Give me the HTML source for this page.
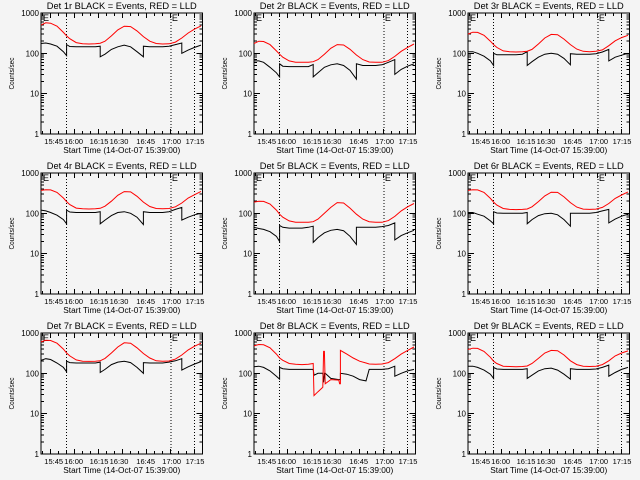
<!DOCTYPE html>
<html><head><meta charset="utf-8"><style>
html,body{margin:0;padding:0;background:#f4f4f4;}
svg{display:block;font-family:"Liberation Sans",sans-serif;}
</style></head><body>
<svg id="c" width="640" height="480" viewBox="0 0 640 480"></svg>
<script>
const T = [0,3,6,10,14,16,16,18,22,26,30,34,37,37,40,44,48,52,56,60,64,64,68,72,76,80,84,88,88,92,96,100];
const T8 = [0,3,6,10,14,16,16,18,22,26,30,34,37,37.5,40,43,43.5,44,44.5,48,53,53.5,54,54,58,62,66,70,72,76,80,84,88,88,92,96,100];
const red1 = [500,570,560,470,330,270,270,230,185,172,170,172,178,178,200,270,380,470,460,360,260,260,200,175,170,172,190,240,240,320,400,480];
const red2 = [175,200,196,165,115,95,95,80,65,60,60,60,62,62,70,95,133,165,161,126,91,91,70,61,60,60,66,84,84,112,140,170];
const red3 = [300,335,330,280,200,165,165,140,115,110,108,110,113,113,125,170,240,295,290,225,165,165,127,112,110,112,122,155,155,205,245,280];
const red4 = [370,385,380,330,240,195,195,165,135,130,128,130,133,133,150,200,280,345,340,265,190,190,148,132,130,132,145,180,180,240,290,350];
const red5 = [190,200,198,170,120,95,95,80,65,60,60,60,62,62,72,100,140,185,180,135,95,95,72,62,60,60,66,84,84,115,145,175];
const red6 = [370,385,380,330,235,190,190,160,132,125,124,125,128,128,145,195,270,335,330,255,185,185,143,127,125,127,140,175,175,235,285,340];
const red7 = [600,660,650,560,400,320,320,270,215,200,198,200,205,205,235,320,450,570,560,430,310,310,240,205,200,202,225,285,285,380,470,560];
const red8 = [480,520,510,430,300,240,240,210,175,168,165,168,175,28,35,45,350,350,55,70,68,55,55,370,300,240,200,180,170,168,170,185,230,230,300,370,450];
const red9 = [390,420,415,350,250,200,200,175,150,148,145,148,152,152,175,235,320,370,365,285,205,205,165,150,148,150,165,205,205,270,320,360];
const blk1 = [175,180,170,150,110,88,165,148,145,145,145,145,150,82,95,125,145,160,145,110,82,150,145,145,145,150,165,180,100,120,140,160];
const blk2 = [65,65,60,45,33,26,55,48,47,47,47,47,53,26,33,45,52,55,50,38,23,55,50,50,50,52,60,70,30,40,48,55];
const blk3 = [110,110,100,85,65,50,100,92,92,92,92,95,110,50,62,80,95,100,95,75,52,98,95,95,95,98,108,125,65,80,90,100];
const blk4 = [120,115,105,90,70,55,120,108,105,105,105,105,110,55,68,88,105,110,100,80,53,110,105,105,105,110,125,140,68,80,92,100];
const blk5 = [45,42,40,35,27,20,50,45,43,43,43,45,48,19,25,33,38,40,37,27,17,45,45,45,45,47,50,58,22,28,33,38];
const blk6 = [105,105,95,85,65,55,110,102,100,100,100,100,105,55,70,88,98,100,92,70,48,100,100,100,100,105,115,125,58,72,85,95];
const blk7 = [210,230,220,180,140,110,200,185,180,180,180,180,190,105,125,165,190,200,185,140,100,185,180,180,180,190,205,230,120,145,170,195];
const blk8 = [145,150,140,115,85,72,140,130,125,125,125,125,125,90,100,100,60,100,100,75,70,70,70,100,95,85,70,65,125,125,125,130,150,85,100,115,125];
const blk9 = [150,150,140,120,95,75,140,128,125,125,125,125,130,75,90,115,130,135,120,95,72,130,125,125,125,128,140,160,85,105,125,140];
const xTickLabels = ["15:45","16:00","16:15","16:30","16:45","17:00","17:15"];
const yTickValues = [1,10,100,1000];
const yTickLabels = ["1","10","100","1000"];
const markerTimes = [15.8,81.2,96];
const detNames = ["1r","2r","3r","4r","5r","6r","7r","8r","9r"];

const panels = [
  {t:T,r:red1,b:blk1},{t:T,r:red2,b:blk2},{t:T,r:red3,b:blk3},
  {t:T,r:red4,b:blk4},{t:T,r:red5,b:blk5},{t:T,r:red6,b:blk6},
  {t:T,r:red7,b:blk7},{t:T8,r:red8,b:blk8},{t:T,r:red9,b:blk9}
];
const svg = document.getElementById('c');
const NS = "http://www.w3.org/2000/svg";
function mk(tag, attrs, parent){const e=document.createElementNS(NS,tag);for(const k in attrs)e.setAttribute(k,attrs[k]);parent.appendChild(e);return e;}
const colX=[41,254,468], rowY=[13,173,333], W=161.5, H=121;
const labelOff=[12.7,32.7,58,78,104.7,130.7,154];

panels.forEach((p,i)=>{
  const ox=colX[i%3], oy=rowY[Math.floor(i/3)];
  const xs=t=>ox+t*1.6;
  const ys=v=>oy+H-(Math.log10(v))*H/3;
  const g=mk('g',{},svg);
  
  
  const title=mk('text',{x:ox+W/2,y:oy-4,'font-size':9,'text-anchor':'middle',textLength:150,lengthAdjust:'spacingAndGlyphs',fill:'#000'},g);
  title.textContent='Det '+detNames[i]+' BLACK = Events, RED = LLD';
  
  
  const box=mk('rect',{x:ox,y:oy,width:W,height:H,fill:'none',stroke:'#000','stroke-width':1,'shape-rendering':'crispEdges'},g);
  
  
  yTickValues.forEach((v,k)=>{
    const y=ys(v);
    mk('line',{x1:ox,x2:ox+6,y1:y,y2:y,stroke:'#000','shape-rendering':'crispEdges'},g);
    mk('line',{x1:ox+W-6,x2:ox+W,y1:y,y2:y,stroke:'#000','shape-rendering':'crispEdges'},g);
    const tl=mk('text',{x:ox-2,y:y+3,'font-size':8,'text-anchor':'end',fill:'#000'},g);
    tl.textContent=yTickLabels[k];
    
    
    if(k<3){for(let m=2;m<10;m++){const yy=ys(v*m);
      mk('line',{x1:ox,x2:ox+3,y1:yy,y2:yy,stroke:'#000','shape-rendering':'crispEdges'},g);
      mk('line',{x1:ox+W-3,x2:ox+W,y1:yy,y2:yy,stroke:'#000','shape-rendering':'crispEdges'},g);}}
  });
  for(let t=1;t<=100;t+=5){
    const major=((t-6)%15===0);
    const x=xs(t), l=major?5:3;
    mk('line',{x1:x,x2:x,y1:oy+H-l,y2:oy+H,stroke:'#000','shape-rendering':'crispEdges'},g);
    mk('line',{x1:x,x2:x,y1:oy,y2:oy+l,stroke:'#000','shape-rendering':'crispEdges'},g);
  }
  xTickLabels.forEach((s,k)=>{
    const tl=mk('text',{x:ox+labelOff[k],y:oy+H+10,'font-size':7.5,'text-anchor':'middle',fill:'#000'},g);
    tl.textContent=s;
    
    
  });
  const xt=mk('text',{x:ox+W/2,y:oy+H+19,'font-size':8,'text-anchor':'middle',textLength:117,lengthAdjust:'spacingAndGlyphs',fill:'#000'},g);
  xt.textContent='Start Time (14-Oct-07 15:39:00)';
  
  
  const yt=mk('text',{x:0,y:0,'font-size':7,'text-anchor':'middle',textLength:32,lengthAdjust:'spacingAndGlyphs',fill:'#000',transform:'translate('+(ox-27)+','+(oy+H/2)+') rotate(-90)'},g);
  yt.textContent='Counts/sec';
  
  
  markerTimes.forEach(t=>{
    const ml=mk('line',{x1:xs(t),x2:xs(t),y1:oy,y2:oy+H,stroke:'#000','stroke-dasharray':'1,2','shape-rendering':'crispEdges'},g);
    
    
  });
  [0.6,81.2].forEach(t=>{
    const e=mk('text',{x:xs(t)+1,y:oy+8,'font-size':9,fill:'#000'},g);
    e.textContent='E';
    
    
  });
  const pts=arr=>arr.map((v,k)=>xs(p.t[k]).toFixed(1)+','+ys(v).toFixed(1)).join(' ');
  const bl=mk('polyline',{points:pts(p.b),fill:'none',stroke:'#000','stroke-width':1}, g);
  
  
  const rl=mk('polyline',{points:pts(p.r),fill:'none',stroke:'#ff0000','stroke-width':1},g);
  
  
});
</script>
</body></html>
